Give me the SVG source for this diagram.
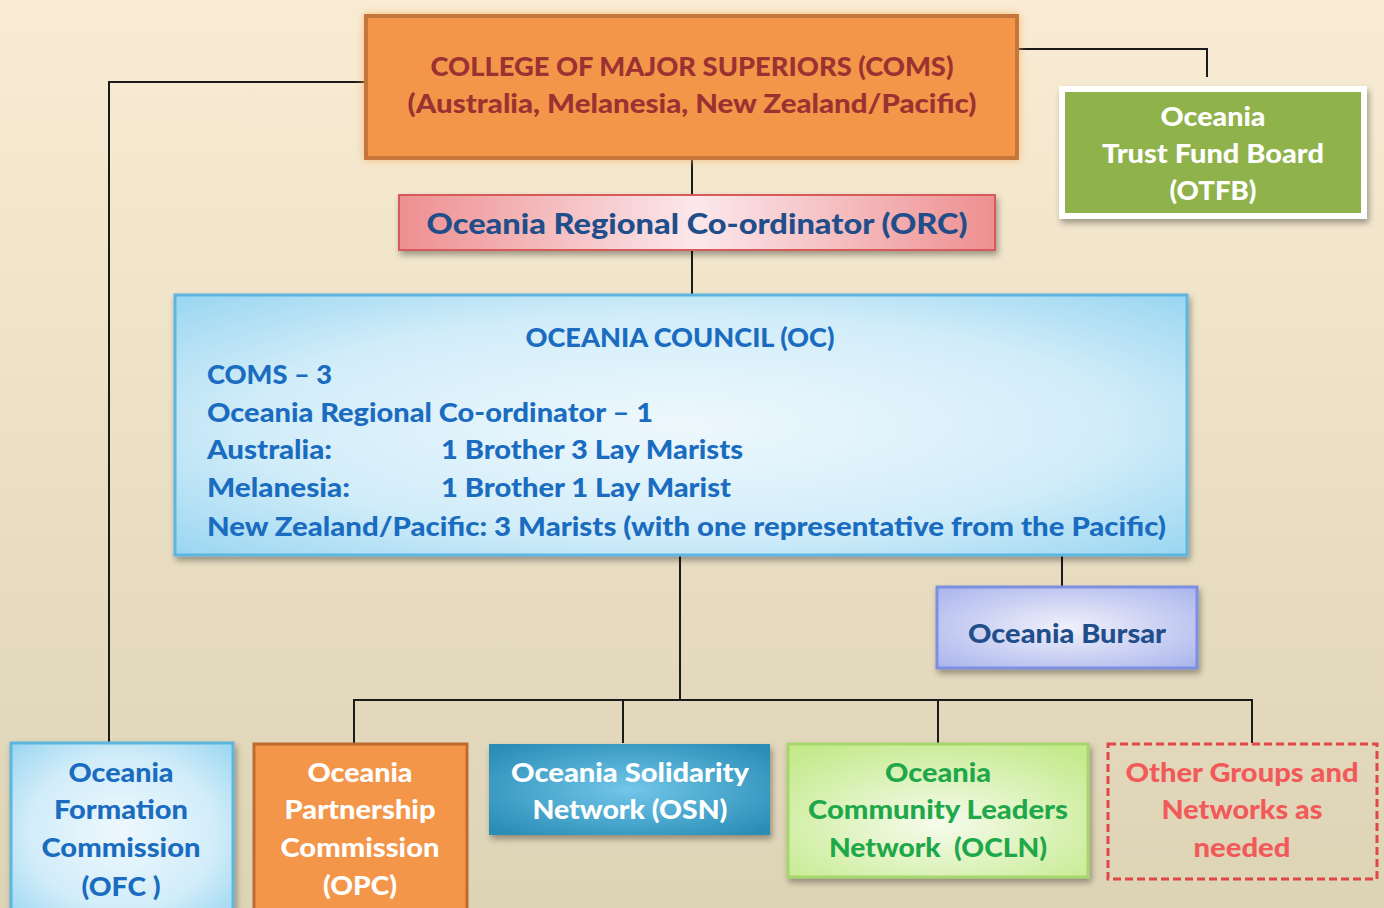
<svg xmlns="http://www.w3.org/2000/svg" width="1384" height="908" viewBox="0 0 1384 908">
<defs>
<linearGradient id="bg" x1="0" y1="0" x2="0" y2="1">
<stop offset="0" stop-color="#f9ecd4"/><stop offset="1" stop-color="#ddd3b5"/>
</linearGradient>
<linearGradient id="pink" x1="0" y1="0" x2="1" y2="0">
<stop offset="0" stop-color="#ee8f90"/><stop offset="0.5" stop-color="#fbe8ec"/><stop offset="1" stop-color="#ee8f90"/>
</linearGradient>
<radialGradient id="sky" cx="0.5" cy="0.5" r="0.7">
<stop offset="0" stop-color="#eef8fd"/><stop offset="0.6" stop-color="#d2edf9"/><stop offset="1" stop-color="#9ad6f1"/>
</radialGradient>
<radialGradient id="lav" cx="0.5" cy="0.5" r="0.7">
<stop offset="0" stop-color="#f0f1fb"/><stop offset="1" stop-color="#aab4ec"/>
</radialGradient>
<radialGradient id="teal" cx="0.5" cy="0.5" r="0.65">
<stop offset="0" stop-color="#72c6e9"/><stop offset="1" stop-color="#2a8db6"/>
</radialGradient>
<radialGradient id="lime" cx="0.5" cy="0.6" r="0.7">
<stop offset="0" stop-color="#f6fbec"/><stop offset="1" stop-color="#c4ea8c"/>
</radialGradient>
<filter id="sh" x="-10%" y="-10%" width="120%" height="130%">
<feDropShadow dx="2" dy="4" stdDeviation="3" flood-color="#000" flood-opacity="0.35"/>
</filter>
<filter id="glow" x="-10%" y="-20%" width="120%" height="140%">
<feDropShadow dx="0" dy="0" stdDeviation="4" flood-color="#f6b060" flood-opacity="0.8"/>
</filter>
</defs>
<style>
text{font-family:Lato,"Open Sans","Liberation Sans",sans-serif;font-weight:900;font-size:26px}
.c{text-anchor:middle}
.conn{fill:none;stroke:#1a1a1a;stroke-width:2}
.db{fill:#1f4e8a}
.bl{fill:#1a6cc0}
.w{fill:#ffffff}
</style>
<rect width="1384" height="908" fill="url(#bg)"/>
<g id="connectors" class="conn">
<path d="M366 82 H109 V743"/>
<path d="M1017 49 H1207 V77"/>
<path d="M692 158 V195"/>
<path d="M692 250 V295"/>
<path d="M680 555 V700"/>
<path d="M354 743 V700 H1252 V743"/>
<path d="M623 700 V743"/>
<path d="M938 700 V743"/>
<path d="M1062 555 V587"/>
</g>
<g id="coms">
<rect x="366" y="16" width="651" height="142" fill="#f4964a" stroke="#c5773a" stroke-width="4" filter="url(#glow)"/>
<text x="692" y="76" class="c" fill="#9b3232" textLength="523" lengthAdjust="spacingAndGlyphs">COLLEGE OF MAJOR SUPERIORS (COMS)</text>
<text x="692" y="113" class="c" fill="#9b3232" textLength="569" lengthAdjust="spacingAndGlyphs">(Australia, Melanesia, New Zealand/Pacific)</text>
</g>
<g id="otfb">
<rect x="1062" y="89" width="302" height="127" fill="#8fb24c" stroke="#ffffff" stroke-width="6" filter="url(#sh)"/>
<text x="1213" y="126" class="c w" textLength="105" lengthAdjust="spacingAndGlyphs">Oceania</text>
<text x="1213" y="163" class="c w" textLength="222" lengthAdjust="spacingAndGlyphs">Trust Fund Board</text>
<text x="1213" y="200" class="c w" textLength="87" lengthAdjust="spacingAndGlyphs">(OTFB)</text>
</g>
<g id="orc">
<rect x="399" y="195" width="596" height="55" fill="url(#pink)" stroke="#d65a5a" stroke-width="2" filter="url(#sh)"/>
<text x="697" y="234" class="c db" style="font-size:29px" textLength="541" lengthAdjust="spacingAndGlyphs">Oceania Regional Co-ordinator (ORC)</text>
</g>
<g id="oc">
<rect x="175" y="295" width="1012" height="260" fill="url(#sky)" stroke="#5db6e0" stroke-width="3" filter="url(#sh)"/>
<text x="680" y="347" class="c bl" textLength="309" lengthAdjust="spacingAndGlyphs">OCEANIA COUNCIL (OC)</text>
<text x="207" y="384" class="bl" textLength="125" lengthAdjust="spacingAndGlyphs">COMS – 3</text>
<text x="207" y="422" class="bl" textLength="446" lengthAdjust="spacingAndGlyphs">Oceania Regional Co-ordinator – 1</text>
<text x="207" y="459" class="bl" textLength="125" lengthAdjust="spacingAndGlyphs">Australia:</text>
<text x="441" y="459" class="bl" textLength="302" lengthAdjust="spacingAndGlyphs">1 Brother 3 Lay Marists</text>
<text x="207" y="497" class="bl" textLength="143" lengthAdjust="spacingAndGlyphs">Melanesia:</text>
<text x="441" y="497" class="bl" textLength="290" lengthAdjust="spacingAndGlyphs">1 Brother 1 Lay Marist</text>
<text x="207" y="536" class="bl" textLength="959" lengthAdjust="spacingAndGlyphs">New Zealand/Pacific: 3 Marists (with one representative from the Pacific)</text>
</g>
<g id="bursar">
<rect x="937" y="587" width="260" height="81" fill="url(#lav)" stroke="#7d8fe0" stroke-width="3" filter="url(#sh)"/>
<text x="1067" y="643" class="c db" textLength="198" lengthAdjust="spacingAndGlyphs">Oceania Bursar</text>
</g>
<g id="ofc">
<rect x="11" y="743" width="222" height="180" fill="url(#sky)" stroke="#5db6e0" stroke-width="3" filter="url(#sh)"/>
<text x="121" y="782" class="c bl" textLength="105" lengthAdjust="spacingAndGlyphs">Oceania</text>
<text x="121" y="819" class="c bl" textLength="134" lengthAdjust="spacingAndGlyphs">Formation</text>
<text x="121" y="857" class="c bl" textLength="159" lengthAdjust="spacingAndGlyphs">Commission</text>
<text x="121" y="896" class="c bl" textLength="79" lengthAdjust="spacingAndGlyphs">(OFC )</text>
</g>
<g id="opc">
<rect x="254" y="744" width="213" height="180" fill="#f4964a" stroke="#c06a30" stroke-width="3"/>
<text x="360" y="782" class="c w" textLength="105" lengthAdjust="spacingAndGlyphs">Oceania</text>
<text x="360" y="819" class="c w" textLength="151" lengthAdjust="spacingAndGlyphs">Partnership</text>
<text x="360" y="857" class="c w" textLength="159" lengthAdjust="spacingAndGlyphs">Commission</text>
<text x="360" y="895" class="c w" textLength="74" lengthAdjust="spacingAndGlyphs">(OPC)</text>
</g>
<g id="osn">
<rect x="489" y="744" width="281" height="91" fill="url(#teal)" filter="url(#sh)"/>
<text x="630" y="782" class="c w" textLength="238" lengthAdjust="spacingAndGlyphs">Oceania Solidarity</text>
<text x="630" y="819" class="c w" textLength="195" lengthAdjust="spacingAndGlyphs">Network (OSN)</text>
</g>
<g id="ocln">
<rect x="788" y="744" width="300" height="133" fill="url(#lime)" stroke="#a6d66c" stroke-width="3" filter="url(#sh)"/>
<text x="938" y="782" class="c" fill="#1fa84a" textLength="106" lengthAdjust="spacingAndGlyphs">Oceania</text>
<text x="938" y="819" class="c" fill="#1fa84a" textLength="260" lengthAdjust="spacingAndGlyphs">Community Leaders</text>
<text x="938" y="857" class="c" fill="#1fa84a" style="white-space:pre" textLength="218" lengthAdjust="spacingAndGlyphs">Network  (OCLN)</text>
</g>
<g id="other">
<rect x="1108" y="744" width="269" height="135" fill="none" stroke="#e04848" stroke-width="3" stroke-dasharray="8 4"/>
<text x="1242" y="782" class="c" fill="#f25a5a" textLength="233" lengthAdjust="spacingAndGlyphs">Other Groups and</text>
<text x="1242" y="819" class="c" fill="#f25a5a" textLength="161" lengthAdjust="spacingAndGlyphs">Networks as</text>
<text x="1242" y="857" class="c" fill="#f25a5a" textLength="97" lengthAdjust="spacingAndGlyphs">needed</text>
</g>
</svg>
